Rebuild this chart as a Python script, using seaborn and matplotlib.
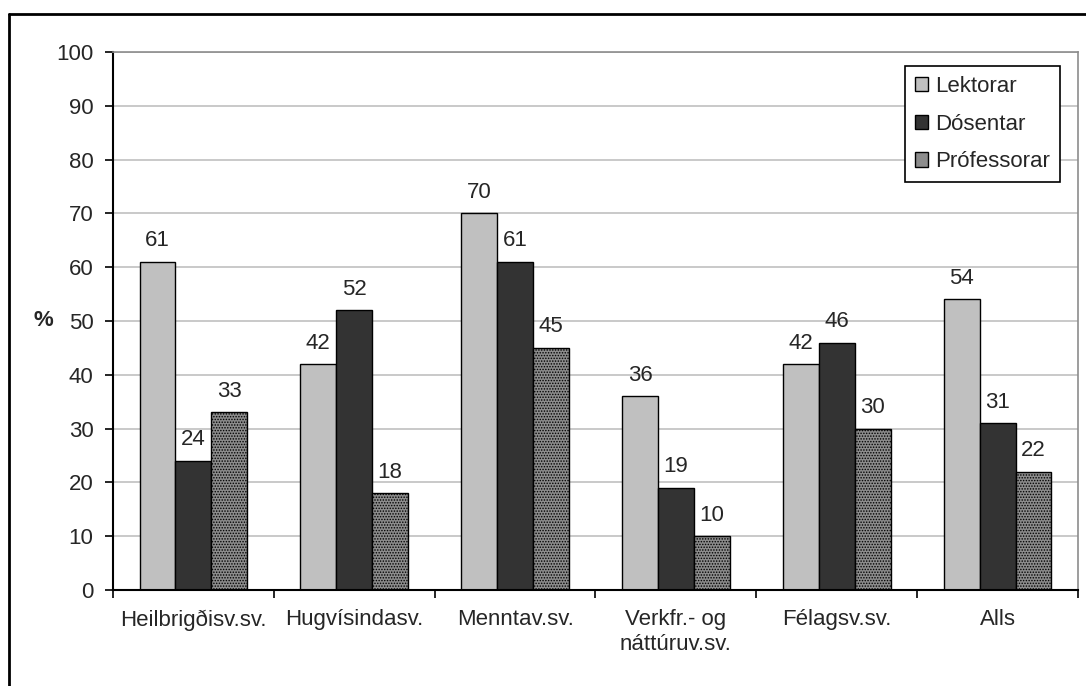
import pandas as pd
import matplotlib.pyplot as plt
import seaborn as sns
from matplotlib.lines import Line2D

# Data
categories = ['Heilbrigðisv.sv.', 'Hugvísindasv.', 'Menntav.sv.',
              'Verkfr.- og\nnáttúruv.sv.', 'Félagsv.sv.', 'Alls']
groups = ['Lektorar', 'Dósentar', 'Prófessorar']
lektorar = [61, 42, 70, 36, 42, 54]
dosentar = [24, 52, 61, 19, 46, 31]
professorar = [33, 18, 45, 10, 30, 22]

df = pd.DataFrame({
    'svid': categories * 3,
    'hopur': [g for g in groups for _ in categories],
    'hlutfall': lektorar + dosentar + professorar,
})

sns.set_style('white')
plt.rcParams['font.family'] = ['Liberation Sans', 'DejaVu Sans']
plt.rcParams['hatch.linewidth'] = 0.7

FS = 16

fig = plt.figure(figsize=(10.86, 6.86), dpi=100)
ax = fig.add_axes([113 / 1086, 96 / 686, 965 / 1086, 538 / 686])

palette = {'Lektorar': '#c0c0c0', 'Dósentar': '#333333', 'Prófessorar': '#8c8c8c'}
sns.barplot(data=df, x='svid', y='hlutfall', hue='hopur', palette=palette,
            width=0.67, gap=0, edgecolor='black', linewidth=1.0,
            saturation=1, ax=ax, legend=True)

# dotted fill for Prófessorar
for bar in ax.containers[2]:
    bar.set_hatch('......')

for cont in ax.containers:
    ax.bar_label(cont, padding=7.5, fontsize=FS)

ax.set_ylim(0, 100)
ax.set_xlim(-0.5, 5.5)
ax.set_yticks(range(0, 101, 10))
ax.yaxis.grid(True, color='#c0c0c0', linewidth=1.2)
ax.set_axisbelow(True)
ax.tick_params(axis='y', labelsize=FS, length=6, width=1.2, color='black', left=True, pad=8)
ax.tick_params(axis='x', labelsize=FS, length=0, pad=14)
ax.set_xticks([i - 0.5 for i in range(7)], minor=True)
ax.tick_params(axis='x', which='minor', length=6, width=1.2, color='black', bottom=True)
ax.set_xlabel('')
ax.set_ylabel('%', rotation=0, fontsize=FS, fontweight='bold', va='center', ha='center')
ax.yaxis.set_label_coords(-0.0725, 0.5)

for side in ['left', 'bottom']:
    ax.spines[side].set_color('black')
    ax.spines[side].set_linewidth(1.5)
for side in ['top', 'right']:
    ax.spines[side].set_color('#8c8c8c')
    ax.spines[side].set_linewidth(1.2)

leg = ax.legend(loc='upper right', bbox_to_anchor=(0.981, 0.974), fontsize=FS,
                frameon=True, fancybox=False, edgecolor='black', framealpha=1,
                handlelength=0.6, handleheight=0.6, handletextpad=0.3,
                labelspacing=0.75, borderpad=0.45, borderaxespad=0)
leg.get_frame().set_linewidth(1.2)

# outer chart border
fig.add_artist(Line2D([9 / 1086, 9 / 1086], [0, 672 / 686], color='black', lw=2,
                      transform=fig.transFigure))
fig.add_artist(Line2D([9 / 1086, 1], [672 / 686, 672 / 686], color='black', lw=2,
                      transform=fig.transFigure))

plt.savefig('out.png', dpi=100)
plt.close()
